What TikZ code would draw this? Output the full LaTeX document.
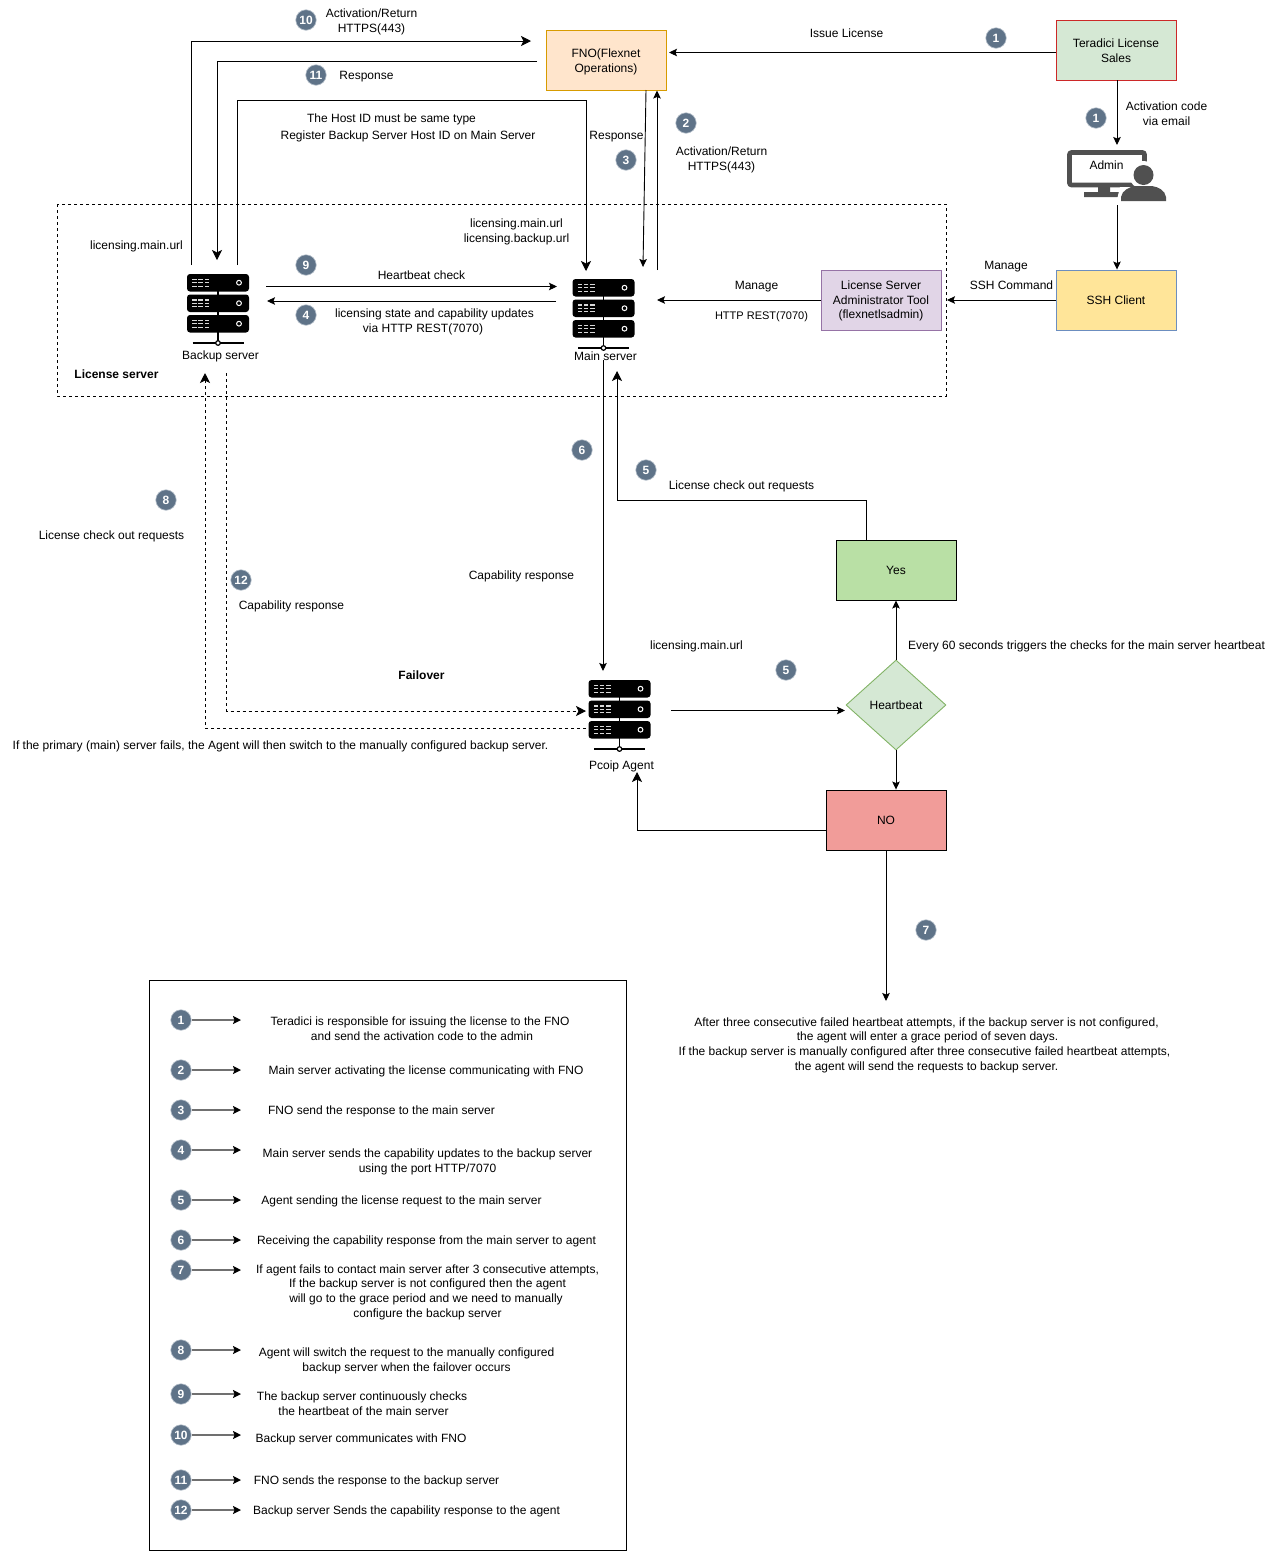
\documentclass[tikz,border=0pt]{standalone}
\usepackage{fontspec}
\setmainfont{Liberation Sans}
\usetikzlibrary{arrows.meta,shapes.geometric}
\definecolor{badgefill}{HTML}{5F7388}
\definecolor{badgeline}{HTML}{B5BFCA}
\definecolor{iconfill}{HTML}{505050}
\definecolor{keygray}{HTML}{707070}
\tikzset{
  conn/.style={draw=black,-{Stealth[length=8pt,width=7.5pt,inset=1.5pt]}},
  bigconn/.style={draw=black,-{Stealth[length=10pt,width=10pt,inset=2.5pt]}},
  dashconn/.style={bigconn,dash pattern=on 3pt off 3pt},
  keyconn/.style={draw=keygray,line width=1.5pt,-{Stealth[length=8pt,width=8pt,inset=1.5pt,black]}},
  lbl/.style={align=center,inner sep=0pt,yshift=-1pt,font=\fontsize{12}{14.6}\selectfont},
  boldlbl/.style={lbl,font=\fontsize{12}{14.6}\selectfont\bfseries},
  boxnode/.style={draw,align=center,minimum width=120pt,minimum height=60pt,inner sep=1pt,font=\fontsize{12}{14.6}\selectfont},
  badge/.style={circle,draw=badgeline,line width=0.6pt,fill=badgefill,text=white,minimum size=20.5pt,inner sep=0pt,font=\fontsize{12}{12}\selectfont\bfseries},
  srvslot/.style={minimum width=62pt,minimum height=70pt,inner sep=0pt},
  srvicon/.pic={
    \draw[black,line width=1.4pt] (0,-20) -- (0,34.5);
    \foreach \rowy in {-34.5,-14,6.5} {
      \fill[black,rounded corners=3pt] (-31,\rowy) rectangle (31,\rowy+17.5);
      \draw[white,line width=1pt] (21,\rowy+8.7) circle (2.4);
      \foreach \dotx in {-26,-20,-13.5} {
        \fill[white!85!black] (\dotx,\rowy+4.7) rectangle (\dotx+4.7,\rowy+6);
        \fill[white!85!black] (\dotx,\rowy+8.1) rectangle (\dotx+4.7,\rowy+9.4);
        \fill[white!85!black] (\dotx,\rowy+11.5) rectangle (\dotx+4.7,\rowy+12.8);
      }
    }
    \draw[black,line width=1.4pt] (-25.5,34.5) -- (25.5,34.5);
    \draw[black,line width=1.2pt,fill=white] (0,34.5) circle (2.3);
  }
}
\begin{document}
\begin{tikzpicture}[x=1pt,y=-1pt,line width=0.9pt]
  \useasboundingbox (0,0) rectangle (1276,1551);

  % License server frame
  \draw[dash pattern=on 3pt off 3pt] (57,204) rectangle (946,396);
  \node[boldlbl] (lblframe) at (116.5,373) {License server};

  % Boxes
  \node[boxnode,fill=orange!20!white,draw={rgb,255:red,215;green,155;blue,0}] (fno) at (606,60) {\rule{0pt}{13pt}FNO(Flexnet\\Operations)};
  \node[boxnode,fill={rgb,255:red,213;green,232;blue,212},draw={rgb,255:red,204;green,40;blue,40}] (tera) at (1116,50) {\rule{0pt}{10.5pt}Teradici License\\Sales};
  \node[boxnode,fill={rgb,255:red,255;green,229;blue,153},draw={rgb,255:red,108;green,142;blue,191}] (ssh) at (1116,300) {SSH Client};
  \node[boxnode,fill={rgb,255:red,225;green,213;blue,231},draw={rgb,255:red,150;green,115;blue,166}] (tool) at (881,300) {\rule{0pt}{11pt}License Server\\Administrator Tool\\(flexnetlsadmin)};
  \node[boxnode,fill={rgb,255:red,185;green,224;blue,165}] (yes) at (896,570) {Yes};
  \node[boxnode,fill={rgb,255:red,241;green,156;blue,153}] (no) at (886,820) {NO};
  \node[diamond,draw={rgb,255:red,130;green,179;blue,102},fill={rgb,255:red,213;green,232;blue,212},minimum width=100pt,minimum height=90pt,inner sep=0pt,font=\fontsize{12}{14.6}\selectfont] (hb) at (896,705) {Heartbeat};

  % Servers
  \node[srvslot] (backupsrv) at (218,308.5) {};
  \pic at (backupsrv.center) {srvicon};
  \node[srvslot] (mainsrv) at (603.5,313.5) {};
  \pic at (mainsrv.center) {srvicon};
  \node[srvslot] (agentsrv) at (619.5,714.5) {};
  \pic at (agentsrv.center) {srvicon};
  \node[lbl] (lblbackup) at (220.5,355) {Backup server};
  \node[lbl] (lblmain) at (605.5,355) {Main server};
  \node[lbl] (lblagent) at (621.5,765) {Pcoip Agent};

  % Admin icon
  \node[minimum width=100pt,minimum height=52pt,inner sep=0pt] (admin) at (1117,175) {};
  \draw[iconfill,line width=4.6pt,rounded corners=2pt] (1069.5,152.5) rectangle (1144.5,185);
  \fill[iconfill] (1098,186) rectangle (1110,192) (1084,192) rectangle (1120,197);
  \fill[white] (1143,175) circle (14) (1116,204) -- (1120,187) -- (1166,187) -- (1171,204) -- cycle;
  \fill[iconfill] (1143.5,175) circle (10);
  \fill[iconfill] (1121,201) -- (1121,197) .. controls (1122,190) and (1130,187) .. (1135,186) -- (1152,186) .. controls (1158,187) and (1165,190) .. (1166,197) -- (1166,201) -- cycle;
  \node[lbl] (lbladmin) at (1106.5,164) {Admin};

  % Free ends
  \coordinate (fnoport) at (669,52.5);
  \coordinate (adminin) at (1117,145);
  \coordinate (adminout) at (1117,205);
  \coordinate (toolport) at (947,300);
  \coordinate (mainport) at (657,300);
  \coordinate (mainup) at (657,270);
  \coordinate (fnoup) at (657,90.5);
  \coordinate (fnodown) at (646,90);
  \coordinate (maindown) at (643,267);
  \coordinate (backupup) at (191,265);
  \coordinate (elbowup) at (191,41);
  \coordinate (fnoin) at (531,41);
  \coordinate (fnoout) at (537,61);
  \coordinate (elbowresp) at (217,61);
  \coordinate (backupin) at (217,260);
  \coordinate (hostout) at (237,265);
  \coordinate (elbowhost) at (237,100);
  \coordinate (elbowhostm) at (586,100);
  \coordinate (hostin) at (586,271);
  \coordinate (beatout) at (266,286.5);
  \coordinate (beatin) at (557,286.5);
  \coordinate (stateout) at (556,301);
  \coordinate (statein) at (267,301);
  \coordinate (capout) at (603,360);
  \coordinate (capin) at (603,671);
  \coordinate (yesout) at (866.5,540);
  \coordinate (yeselbow) at (866.5,500);
  \coordinate (reqelbow) at (617,500);
  \coordinate (reqin) at (617,371);
  \coordinate (agentout) at (671,710.5);
  \coordinate (hbin) at (845,710.5);
  \coordinate (noout) at (826,830.5);
  \coordinate (noelbow) at (637,830.5);
  \coordinate (agentin) at (637,772);
  \coordinate (graceend) at (886,1001);
  \coordinate (failout) at (226.5,373);
  \coordinate (failelbow) at (226.5,711);
  \coordinate (failin) at (586,711);
  \coordinate (backout) at (586,728);
  \coordinate (backelbow) at (205,728);
  \coordinate (backin) at (205,373);

  % Connectors
  \draw[conn] ([yshift=-2.5pt]tera.west) -- (fnoport);
  \draw[conn] (tera.south -| adminin) -- (adminin);
  \draw[conn] (adminout) -- (ssh.north -| adminout);
  \draw[conn] (ssh.west) -- (toolport);
  \draw[conn] (tool.west) -- (mainport);
  \draw[conn] (mainup) -- (fnoup);
  \draw[conn] (fnodown) -- (maindown);
  \draw[bigconn] (backupup) -- (elbowup) -- (fnoin);
  \draw[bigconn] (fnoout) -- (elbowresp) -- (backupin);
  \draw[bigconn] (hostout) -- (elbowhost) -- (elbowhostm) -- (hostin);
  \draw[conn] (beatout) -- (beatin);
  \draw[conn] (stateout) -- (statein);
  \draw[conn] (capout) -- (capin);
  \draw[bigconn] (yesout) -- (yeselbow) -- (reqelbow) -- (reqin);
  \draw[conn] (hb.north) -- (yes.south -| hb.north);
  \draw[conn] (agentout) -- (hbin);
  \draw[conn] (hb.south) -- (no.north -| hb.south);
  \draw[bigconn] (noout) -- (noelbow) -- (agentin);
  \draw[conn] (no.south) -- (graceend);
  \draw[dashconn] (failout) -- (failelbow) -- (failin);
  \draw[dashconn] (backout) -- (backelbow) -- (backin);

  % Labels
  \node[lbl] (l10) at (371.5,21) {Activation/Return\\HTTPS(443)};
  \node[lbl] (l11) at (366.5,76) {Response};
  \node[lbl] (lissue) at (846.5,32) {Issue License};
  \node[lbl] (lactcode) at (1166.5,112.5) {Activation code\\via email};
  \node[lbl] (lhostid) at (391.5,118) {The Host ID must be same type};
  \node[lbl] (lregister) at (408,135) {Register Backup Server Host ID on Main Server};
  \node[lbl] (lresp) at (616.5,136) {Response};
  \node[lbl] (lact2) at (721.5,159) {Activation/Return\\HTTPS(443)};
  \node[lbl] (lmainurl) at (516.5,231) {licensing.main.url\\licensing.backup.url};
  \node[lbl] (lbackurl) at (136.5,245) {licensing.main.url};
  \node[lbl] (lmanage1) at (1006,266) {Manage};
  \node[lbl] (lsshcmd) at (1011.5,284) {SSH Command};
  \node[lbl] (lmanage2) at (756.5,286) {Manage};
  \node[lbl,font=\fontsize{11}{13}\selectfont] (lrest) at (761.5,316) {HTTP REST(7070)};
  \node[lbl] (lheart) at (421.5,274) {Heartbeat check};
  \node[lbl] (lstate) at (434.5,313) {licensing state and capability updates};
  \node[lbl] (lstatevia) at (423,328.5) {via HTTP REST(7070)};
  \node[lbl] (lcheck5) at (741.5,485) {License check out requests};
  \node[lbl] (lcheck8) at (111.5,535) {License check out requests};
  \node[lbl] (lcap6) at (521.5,575) {Capability response};
  \node[lbl] (lcap12) at (291.5,605) {Capability response};
  \node[lbl] (lagenturl) at (696.5,645) {licensing.main.url};
  \node[lbl] (levery) at (1086.5,645) {Every 60 seconds triggers the checks for the main server heartbeat};
  \node[boldlbl] (lfailover) at (421.5,674) {Failover};
  \node[lbl] (lprimary) at (280.5,745) {If the primary (main) server fails, the Agent will then switch to the manually configured backup server.};
  \node[lbl] (lafter) at (924.5,1044) {\hspace*{4pt}After three consecutive failed heartbeat attempts, if the backup server is not configured,\\\hspace*{6pt}the agent will enter a grace period of seven days.\\If the backup server is manually configured after three consecutive failed heartbeat attempts,\\\hspace*{4pt}the agent will send the requests to backup server.};

  % Step badges
  \node[badge] (b10) at (306,20) {10};
  \node[badge] (b11) at (316,75) {11};
  \node[badge] (b1a) at (996,38) {1};
  \node[badge] (b1b) at (1096,118) {1};
  \node[badge] (b2) at (686,123) {2};
  \node[badge] (b3) at (626,160) {3};
  \node[badge] (b9) at (306,265) {9};
  \node[badge] (b4) at (306,315) {4};
  \node[badge] (b6) at (582,450) {6};
  \node[badge] (b5a) at (646,470) {5};
  \node[badge] (b8) at (166,500) {8};
  \node[badge] (b12) at (241,580) {12};
  \node[badge] (b5b) at (786,670) {5};
  \node[badge] (b7) at (926,930) {7};

  % Legend
  \node[draw,minimum width=477pt,minimum height=570pt,inner sep=0pt] (legend) at (387.5,1265) {};

  \node[badge] (k1) at (181,1020) {1};
  \coordinate (k1end) at (241,1020);
  \draw[keyconn] (k1) -- (k1end);
  \node[lbl] (t1) at (420,1027.5) {Teradici is responsible for issuing the license to the FNO\\\hspace*{4pt}and send the activation code to the admin};

  \node[badge] (k2) at (181,1070) {2};
  \coordinate (k2end) at (241,1070);
  \draw[keyconn] (k2) -- (k2end);
  \node[lbl] (t2) at (426,1070) {Main server activating the license communicating with FNO};

  \node[badge] (k3) at (181,1110) {3};
  \coordinate (k3end) at (241,1110);
  \draw[keyconn] (k3) -- (k3end);
  \node[lbl] (t3) at (381.5,1110) {FNO send the response to the main server};

  \node[badge] (k4) at (181,1150) {4};
  \coordinate (k4end) at (241,1150);
  \draw[keyconn] (k4) -- (k4end);
  \node[lbl] (t4) at (427.5,1161) {Main server sends the capability updates to the backup server\\using the port HTTP/7070};

  \node[badge] (k5) at (181,1200) {5};
  \coordinate (k5end) at (241,1200);
  \draw[keyconn] (k5) -- (k5end);
  \node[lbl] (t5) at (401.5,1200) {Agent sending the license request to the main server};

  \node[badge] (k6) at (181,1240) {6};
  \coordinate (k6end) at (241,1240);
  \draw[keyconn] (k6) -- (k6end);
  \node[lbl] (t6) at (426.5,1240) {Receiving the capability response from the main server to agent};

  \node[badge] (k7) at (181,1270) {7};
  \coordinate (k7end) at (241,1270);
  \draw[keyconn] (k7) -- (k7end);
  \node[lbl] (t7) at (427.5,1291) {If agent fails to contact main server after 3 consecutive attempts,\\If the backup server is not configured then the agent\\\hspace*{-3pt}will go to the grace period and we need to manually\\configure the backup server};

  \node[badge] (k8) at (181,1350) {8};
  \coordinate (k8end) at (241,1350);
  \draw[keyconn] (k8) -- (k8end);
  \node[lbl] (t8) at (406.5,1360) {Agent will switch the request to the manually configured\\backup server when the failover occurs};

  \node[badge] (k9) at (181,1394) {9};
  \coordinate (k9end) at (241,1394);
  \draw[keyconn] (k9) -- (k9end);
  \node[lbl] (t9) at (362,1402.5) {The backup server continuously checks\\\hspace*{3pt}the heartbeat of the main server};

  \node[badge] (k10) at (181,1435) {10};
  \coordinate (k10end) at (241,1435);
  \draw[keyconn] (k10) -- (k10end);
  \node[lbl] (t10) at (361,1438) {Backup server communicates with FNO};

  \node[badge] (k11) at (181,1480) {11};
  \coordinate (k11end) at (241,1480);
  \draw[keyconn] (k11) -- (k11end);
  \node[lbl] (t11) at (376.5,1480) {FNO sends the response to the backup server};

  \node[badge] (k12) at (181,1510) {12};
  \coordinate (k12end) at (241,1510);
  \draw[keyconn] (k12) -- (k12end);
  \node[lbl] (t12) at (406.5,1510) {Backup server Sends the capability response to the agent};
\end{tikzpicture}
\end{document}
